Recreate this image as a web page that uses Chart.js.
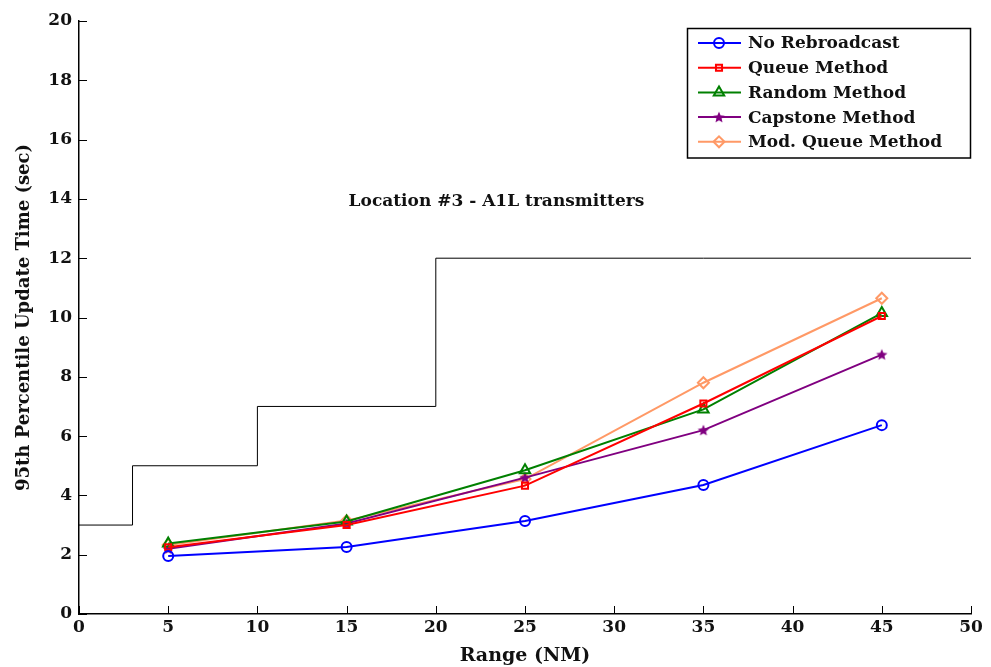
<!DOCTYPE html>
<html>
<head>
<meta charset="utf-8">
<script src="https://cdn.jsdelivr.net/npm/chart.js@4.4.1/dist/chart.umd.min.js"></script>
<style>
  html, body { margin: 0; padding: 0; background: #fff; }
  #wrap { width: 991px; height: 667px; }
</style>
</head>
<body>
<div id="wrap"><canvas id="chart"></canvas></div>
<script>
const ranges = [5, 15, 25, 35, 45];
const noRebroadcast = [1.96, 2.26, 3.14, 4.35, 6.37];
const queueMethod = [2.25, 3.0, 4.33, 7.1, 10.05];
const randomMethod = [2.38, 3.12, 4.85, 6.9, 10.15];
const capstoneMethod = [2.2, 3.05, 4.6, 6.2, 8.75];
const modQueueMethod = [2.33, 3.15, 4.55, 7.8, 10.65];

// requirement step line
const limitX = [0, 3, 10, 20, 50];
const limitY = [3, 5, 7, 12, 12];

const xTicks = [0, 5, 10, 15, 20, 25, 30, 35, 40, 45, 50];
const yTicks = [0, 2, 4, 6, 8, 10, 12, 14, 16, 18, 20];

const plotTitle = "Location #3 - A1L transmitters";
const FONT = "'DejaVu Serif', serif";

const toPoints = (xs, ys) => xs.map((x, i) => ({ x: x, y: ys[i] }));

// filled five point star marker
const starMarker = (() => {
    const c = document.createElement("canvas");
    c.width = 14; c.height = 14;
    const g = c.getContext("2d");
    g.fillStyle = "#800080";
    g.beginPath();
    for (let i = 0; i < 10; i++) {
        const r = i % 2 === 0 ? 6 : 2.7;
        const a = -Math.PI / 2 + i * Math.PI / 5;
        const px = 7 + r * Math.cos(a), py = 7.5 + r * Math.sin(a);
        i === 0 ? g.moveTo(px, py) : g.lineTo(px, py);
    }
    g.closePath();
    g.fill();
    return c;
})();

const series = [
    { label: "No Rebroadcast", data: noRebroadcast, color: "#0000ff", style: "circle", radius: 5 },
    { label: "Queue Method", data: queueMethod, color: "#ff0000", style: "rect", radius: 4.3 },
    { label: "Random Method", data: randomMethod, color: "#008000", style: "triangle", radius: 6 },
    { label: "Capstone Method", data: capstoneMethod, color: "#800080", style: starMarker, radius: 6 },
    { label: "Mod. Queue Method", data: modQueueMethod, color: "#ff9966", style: "rectRot", radius: 5.5 },
];

const datasets = series.map((s) => ({
    label: s.label,
    data: toPoints(ranges, s.data),
    borderColor: s.color,
    backgroundColor: "rgba(0,0,0,0)",
    borderWidth: 2,
    pointStyle: s.style,
    pointRadius: s.radius,
    pointBorderWidth: 2,
    pointBorderColor: s.color,
    pointBackgroundColor: "rgba(0,0,0,0)",
    tension: 0,
}));

datasets.unshift({
    label: "limit",
    data: toPoints(limitX, limitY),
    borderColor: "#000",
    borderWidth: 1,
    pointRadius: 0,
    stepped: "before",
    fill: false,
});

// inward tick marks, in-plot title and boxed legend
const extras = {
    id: "extras",
    afterDraw(chart) {
        const { ctx, chartArea, scales } = chart;
        ctx.save();
        ctx.strokeStyle = "#000";
        ctx.lineWidth = 1;
        ctx.beginPath();
        xTicks.forEach((v) => {
            const px = Math.round(scales.x.getPixelForValue(v)) + 0.5;
            ctx.moveTo(px, chartArea.bottom);
            ctx.lineTo(px, chartArea.bottom - 8);
        });
        yTicks.forEach((v) => {
            const py = Math.round(scales.y.getPixelForValue(v)) + 0.5;
            ctx.moveTo(chartArea.left, py);
            ctx.lineTo(chartArea.left + 8, py);
        });
        ctx.stroke();

        ctx.fillStyle = "#111";
        ctx.font = "bold 17px " + FONT;
        ctx.textAlign = "center";
        ctx.textBaseline = "middle";
        ctx.fillText(plotTitle, scales.x.getPixelForValue(23.4), scales.y.getPixelForValue(13.9));

        const boxW = 284, rowH = 24.7;
        const bx = chartArea.right - boxW, by = chartArea.top + 7;
        const boxH = rowH * series.length + 6;
        ctx.fillStyle = "#fff";
        ctx.fillRect(bx, by, boxW, boxH);
        ctx.strokeStyle = "#000";
        ctx.lineWidth = 1.5;
        ctx.strokeRect(bx + 0.5, by + 0.5, boxW - 1, boxH);
        ctx.font = "bold 17px " + FONT;
        ctx.textAlign = "left";
        series.forEach((s, i) => {
            const cy = by + 15 + i * rowH;
            ctx.strokeStyle = s.color;
            ctx.lineWidth = 2;
            ctx.beginPath();
            ctx.moveTo(bx + 11, cy);
            ctx.lineTo(bx + 54, cy);
            ctx.stroke();
            ctx.fillStyle = "rgba(0,0,0,0)";
            Chart.helpers.drawPoint(ctx, {
                pointStyle: s.style, rotation: 0, radius: s.radius, borderWidth: 2,
            }, bx + 32, cy);
            ctx.fillStyle = "#111";
            ctx.fillText(s.label, bx + 61, cy + 1);
        });
        ctx.restore();
    },
};

new Chart(document.getElementById("chart"), {
    type: "line",
    data: { datasets: datasets },
    options: {
        responsive: true,
        maintainAspectRatio: false,
        animation: false,
        layout: { padding: { top: 21, right: 20, left: 0, bottom: 0 } },
        plugins: { legend: { display: false }, tooltip: { enabled: false } },
        scales: {
            x: {
                type: "linear",
                min: 0, max: 50,
                afterBuildTicks: (axis) => { axis.ticks = xTicks.map((v) => ({ value: v })); },
                afterFit: (axis) => { axis.height = 53; },
                border: { color: "#000", width: 1.5 },
                grid: { display: false, drawTicks: false },
                ticks: { color: "#111", font: { family: FONT, size: 17, weight: "bold" }, padding: 3, maxRotation: 0 },
                title: { display: true, text: "Range (NM)", color: "#111", font: { family: FONT, size: 19, weight: "bold" }, padding: { top: 0, bottom: 0 } },
            },
            y: {
                type: "linear",
                min: 0, max: 20,
                afterBuildTicks: (axis) => { axis.ticks = yTicks.map((v) => ({ value: v })); },
                afterFit: (axis) => { axis.width = 79; },
                border: { color: "#000", width: 1.5 },
                grid: { display: false, drawTicks: false },
                ticks: { color: "#111", font: { family: FONT, size: 17, weight: "bold" }, padding: 7 },
                title: { display: true, text: "95th Percentile Update Time (sec)", color: "#111", font: { family: FONT, size: 18, weight: "bold" }, padding: { top: 14, bottom: 0 } },
            },
        },
    },
    plugins: [extras],
});
</script>
</body>
</html>
